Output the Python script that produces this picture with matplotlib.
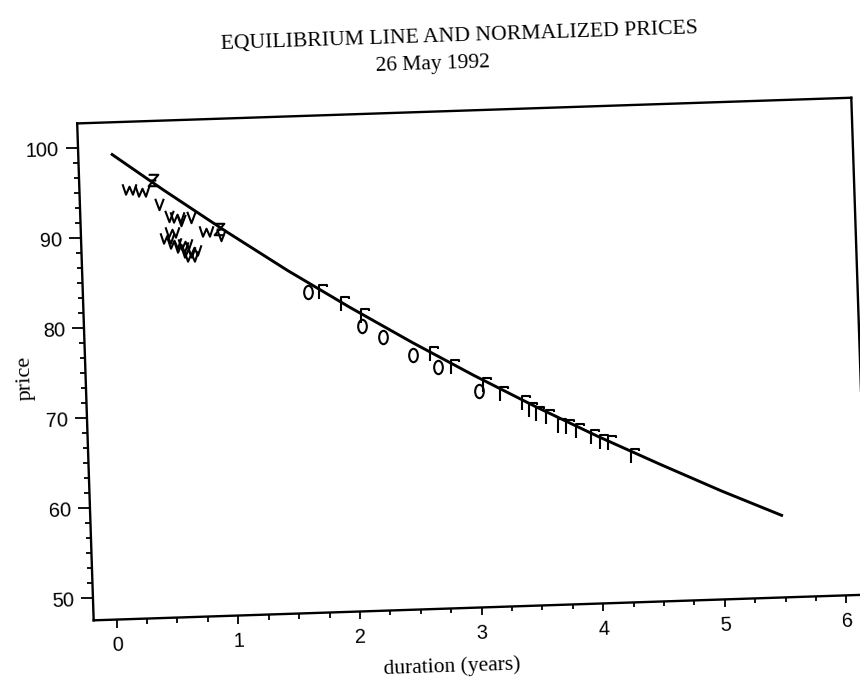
import numpy as np
import matplotlib
matplotlib.use("Agg")
import matplotlib.pyplot as plt
from matplotlib.artist import Artist
from matplotlib.path import Path
from matplotlib.transforms import Affine2D
from matplotlib.ticker import MultipleLocator, FixedLocator

# Equilibrium (fitted) price line
curve_duration = [0.08, 0.5, 1.0, 1.5, 2.0, 2.5, 3.0, 3.5, 4.0, 4.5, 5.0, 5.5]
curve_price = [99.2, 95.0, 90.2, 85.6, 81.3, 77.2, 73.3, 69.6, 66.1, 62.8, 59.6, 56.6]

# Normalized prices, one plotting symbol per instrument class
w_duration = [0.217, 0.326, 0.608, 0.521, 0.56, 0.575, 0.629, 0.66, 0.682, 0.737, 0.709, 0.838]
w_price = [95.2, 95.0, 91.9, 89.7, 90.3, 89.1, 88.6, 88.9, 88.0, 88.2, 87.6, 90.3]

v_duration = [0.460, 0.540, 0.635, 0.718, 0.960]
v_price = [93.4, 92.1, 91.6, 91.9, 89.8]

z_duration = [0.419, 0.947]
z_price = [96.1, 90.5]

o_duration = [1.659, 2.098, 2.264, 2.507, 2.710, 3.041]
o_price = [83.2, 79.2, 77.9, 75.8, 74.4, 71.5]

f_duration = [1.782, 1.957, 2.119, 2.677, 2.847, 3.103, 3.240, 3.420, 3.480,
              3.534, 3.616, 3.710, 3.778, 3.859, 3.981, 4.048, 4.116, 4.305]
f_price = [83.1, 81.7, 80.3, 75.8, 74.3, 72.2, 71.1, 70.0, 69.2,
           68.8, 68.4, 67.4, 67.2, 66.8, 66.0, 65.4, 65.3, 63.8]

x_major = [0, 1, 2, 3, 4, 5, 6]
y_major = [50, 60, 70, 80, 90, 100]

title = "EQUILIBRIUM LINE AND NORMALIZED PRICES"
subtitle = "26 May 1992"
x_label = "duration (years)"
y_label = "price"

TILT = 1.9  # degrees


def stroke(*polylines):
    """Open stroked glyph built from one or more polylines."""
    verts, codes = [], []
    for pl in polylines:
        verts += pl
        codes += [Path.MOVETO] + [Path.LINETO] * (len(pl) - 1)
    return Path(verts, codes)


circ = Path.unit_circle()
glyphs = {
    "W": (stroke([(-1, 0.75), (-0.5, -0.75), (0, 0.4), (0.5, -0.75), (1, 0.75)]), 10.0),
    "V": (stroke([(-0.75, 1), (0, -1), (0.75, 1)]), 8.2),
    "Z": (stroke([(-0.85, 1), (0.85, 1), (-0.85, -1), (0.85, -1)],
                 [(-0.5, 0.0), (0.5, 0.0)]), 8.2),
    "O": (Path(circ.vertices * [0.65, 1.0], circ.codes), 9.6),
    "F": (stroke([(-0.55, -1), (-0.55, 1), (0.6, 1), (0.6, 0.7)]), 10.2),
}

fig = plt.figure(figsize=(8.6, 6.89), dpi=100)
ax = fig.add_axes([0.0991, 0.1181, 0.9006, 0.7216])
ax.patch.set_visible(False)
ax.set_xlim(-0.189, 6.175)
ax.set_ylim(47.56, 102.68)

ax.plot(curve_duration, curve_price, color="black", lw=2.1, clip_on=False,
        solid_capstyle="butt", solid_joinstyle="round")

for sym, xs, ys in [("W", w_duration, w_price), ("V", v_duration, v_price),
                    ("Z", z_duration, z_price), ("O", o_duration, o_price),
                    ("F", f_duration, f_price)]:
    path, size = glyphs[sym]
    ax.plot(xs, ys, ls="none", marker=path, ms=size, mew=1.5,
            mfc="none", mec="black", clip_on=False)

ax.xaxis.set_major_locator(FixedLocator(x_major))
ax.xaxis.set_minor_locator(MultipleLocator(0.25))
ax.yaxis.set_major_locator(FixedLocator(y_major))
ax.yaxis.set_minor_locator(FixedLocator([50 + k * 10 / 6 for k in range(31)]))

for sp in ["top", "right", "left", "bottom"]:
    ax.spines[sp].set_linewidth(1.7)

ax.tick_params(axis="both", which="both", direction="out", width=1.3,
               top=False, right=False, colors="black",
               labelsize=14.5, labelfontfamily="Liberation Sans")
ax.tick_params(axis="y", which="major", length=8.6, pad=4.8)
ax.tick_params(axis="x", which="major", length=6.0, pad=5.8)
ax.tick_params(axis="both", which="minor", length=3.3)

serif = "Liberation Serif"
fig.text(459 / 860, 1 - 37 / 689, title, ha="center", va="center",
         rotation=TILT, rotation_mode="anchor", family=serif, size=15.6)
fig.text(433 / 860, 1 - 65 / 689, subtitle, ha="center", va="center",
         rotation=TILT, rotation_mode="anchor", family=serif, size=15.5)
fig.text(452 / 860, 1 - 667 / 689, x_label, ha="center", va="center",
         rotation=TILT, rotation_mode="anchor", family=serif, size=15.5)
fig.text(25 / 860, 1 - 378 / 689, y_label, ha="center", va="center",
         rotation=90 + TILT, rotation_mode="anchor", family=serif, size=16)

# Tilt the whole plotting frame slightly about its centre
fig.canvas.draw()
bb = ax.bbox
rot = Affine2D().rotate_deg_around((bb.x0 + bb.x1) / 2, (bb.y0 + bb.y1) / 2, TILT)

for line in ax.lines:
    line.set_transform(Artist.get_transform(line) + rot)
for sp in ax.spines.values():
    sp.set_transform(Artist.get_transform(sp) + rot)
for axis in (ax.xaxis, ax.yaxis):
    for tick in axis.get_major_ticks() + axis.get_minor_ticks():
        for art in (tick.tick1line, tick.tick2line, tick.gridline,
                    tick.label1, tick.label2):
            art.set_transform(Artist.get_transform(art) + rot)
        tick.label1.set_rotation(TILT)

fig.savefig("out.png", dpi=100)
